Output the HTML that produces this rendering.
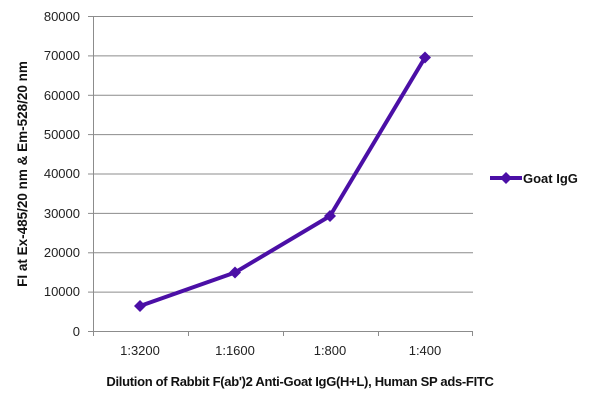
<!DOCTYPE html><html><head><style>body{margin:0;background:#fff}svg{display:block}</style></head><body>
<svg width="600" height="404" xmlns="http://www.w3.org/2000/svg" font-family="Liberation Sans, sans-serif">
<g stroke="#8c8c8c" stroke-width="1">
<line x1="93" y1="16.5" x2="473" y2="16.5"/><line x1="93" y1="55.9" x2="473" y2="55.9"/><line x1="93" y1="95.3" x2="473" y2="95.3"/><line x1="93" y1="134.6" x2="473" y2="134.6"/><line x1="93" y1="174" x2="473" y2="174"/><line x1="93" y1="213.4" x2="473" y2="213.4"/><line x1="93" y1="252.8" x2="473" y2="252.8"/><line x1="93" y1="292.1" x2="473" y2="292.1"/><line x1="88" y1="331.5" x2="473" y2="331.5"/>
<line x1="93.5" y1="16" x2="93.5" y2="336"/>
<line x1="88" y1="16.5" x2="93" y2="16.5"/><line x1="88" y1="55.9" x2="93" y2="55.9"/><line x1="88" y1="95.3" x2="93" y2="95.3"/><line x1="88" y1="134.6" x2="93" y2="134.6"/><line x1="88" y1="174" x2="93" y2="174"/><line x1="88" y1="213.4" x2="93" y2="213.4"/><line x1="88" y1="252.8" x2="93" y2="252.8"/><line x1="88" y1="292.1" x2="93" y2="292.1"/>
<line x1="188.5" y1="331" x2="188.5" y2="336"/><line x1="283.5" y1="331" x2="283.5" y2="336"/><line x1="378.5" y1="331" x2="378.5" y2="336"/><line x1="472.5" y1="331" x2="472.5" y2="336"/>
</g>
<g font-size="13" fill="#222" text-anchor="end">
<text x="80" y="21">80000</text><text x="80" y="60">70000</text><text x="80" y="100">60000</text><text x="80" y="139">50000</text><text x="80" y="178">40000</text><text x="80" y="218">30000</text><text x="80" y="257">20000</text><text x="80" y="296">10000</text><text x="80" y="336">0</text>
</g>
<g font-size="13" fill="#222" text-anchor="middle">
<text x="140" y="355">1:3200</text><text x="235" y="355">1:1600</text><text x="330" y="355">1:800</text><text x="425" y="355">1:400</text>
</g>
<text x="300" y="386" font-size="13" font-weight="bold" text-anchor="middle" fill="#111" letter-spacing="-0.3">Dilution of Rabbit F(ab')2 Anti-Goat IgG(H+L), Human SP ads-FITC</text>
<text transform="translate(27,174) rotate(-90)" font-size="13.5" font-weight="bold" text-anchor="middle" fill="#111">FI at Ex-485/20 nm &amp; Em-528/20 nm</text>
<polyline points="140,306 235,272.5 330,216 425,57.5" fill="none" stroke="#4b0fa6" stroke-width="4" stroke-linejoin="round"/>
<g fill="#4b0fa6">
<path d="M140,300 l6,6 l-6,6 l-6,-6z"/><path d="M235,266.5 l6,6 l-6,6 l-6,-6z"/><path d="M330,210 l6,6 l-6,6 l-6,-6z"/><path d="M425,51.5 l6,6 l-6,6 l-6,-6z"/>
<path d="M506,172 l6,6 l-6,6 l-6,-6z"/>
</g>
<line x1="490" y1="178" x2="522" y2="178" stroke="#4b0fa6" stroke-width="4"/>
<text x="523" y="183" font-size="13" font-weight="bold" fill="#111">Goat IgG</text>
</svg>
</body></html>
